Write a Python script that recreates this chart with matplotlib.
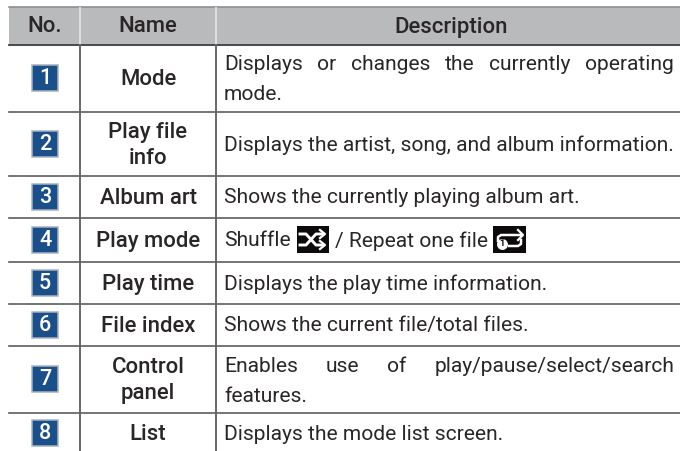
import matplotlib.pyplot as plt
from matplotlib.patches import Rectangle

plt.rcParams['font.family'] = ['Roboto', 'DejaVu Sans']

headers = ["No.", "Name", "Description"]
numbers = ["1", "2", "3", "4", "5", "6", "7", "8"]
names = ["Mode", "Play file\ninfo", "Album art", "Play mode", "Play time",
         "File index", "Control\npanel", "List"]
descriptions = [
    "Displays or changes the currently operating\nmode.",
    "Displays the artist, song, and album information.",
    "Shows the currently playing album art.",
    "Shuffle",
    "Displays the play time information.",
    "Shows the current file/total files.",
    "Enables use of play/pause/select/search\nfeatures.",
    "Displays the mode list screen.",
]
row_lines = [44, 112, 176, 217.5, 262, 304, 345.5, 412.5, 451]
col_lines = [9, 80, 216, 680]

text_col = "#2a2627"
size_body = 15.1
size_name = 15.9


def justified_line(ax, x, y, s, width, **kw):
    # spreads the words evenly over the column width
    r = ax.figure.canvas.get_renderer()
    objs = [ax.text(0, y, w, **kw) for w in s.split(" ")]
    ws = [o.get_window_extent(r).width for o in objs]
    gap = (width - sum(ws)) / (len(objs) - 1)
    cx = x
    for o, w in zip(objs, ws):
        o.set_x(cx)
        cx += w + gap


fig = plt.figure(figsize=(6.8, 4.51), dpi=100)
ax = fig.add_axes([0, 0, 1, 1])
ax.set_xlim(0, 680)
ax.set_ylim(451, 0)
ax.axis("off")

# header band
ax.add_patch(Rectangle((9, 7), 671, 37, fc="#b9babc", ec="none"))
ax.plot([9, 680], [7, 7], color="#8e8f91", lw=1.2)
ax.plot([9, 680], [44.5, 44.5], color="#3a3a3b", lw=1.3)
for x in col_lines[1:3]:
    ax.plot([x, x], [8, 43.5], color="#e4e4e5", lw=1.3)
    ax.plot([x, x], [45, 451], color="#5e5e60", lw=1.3)

header_x = [45, 148, 451]
for s, x in zip(headers, header_x):
    ax.text(x, 27, s, ha="center", va="center", fontsize=size_name,
            fontweight="medium", color=text_col)

for y in row_lines[1:-1]:
    ax.plot([9, 680], [y, y], color="#5e5e60", lw=1.2)

# rows
for i in range(8):
    top = row_lines[i]
    bot = row_lines[i + 1]
    yc = (top + bot) / 2
    if i == 7:
        yc = 433
    ax.add_patch(Rectangle((32, yc - 13), 26, 26, fc="#1a4f8a", ec="#a8b2bd", lw=1.1))
    ax.text(45, yc + 0.5, numbers[i], ha="center", va="center", color="white", fontsize=15.5,
            fontweight="medium")
    ax.text(148, yc + 1.5, names[i], ha="center", va="center", fontsize=size_name,
            fontweight="medium", color=text_col, linespacing=1.27)
    lines = descriptions[i].split("\n")
    if len(lines) == 2:
        justified_line(ax, 224, yc - 13, lines[0], 450, va="center", fontsize=size_body, color=text_col)
        ax.text(224, yc + 17, lines[1], va="center", fontsize=size_body, color=text_col)
    else:
        ax.text(224, yc + 1, lines[0], va="center", fontsize=size_body, color=text_col)

# play mode row, with the two icons
yc = 241
ax.text(335, yc, "/ Repeat one file", ha="left", va="center", fontsize=size_body, color=text_col)

ax.add_patch(Rectangle((297, 226), 32, 27, fc="#0c0a0b", ec="none"))
ax.plot([300, 306, 316, 322], [234, 234, 245, 245], color="white", lw=2.1)
ax.plot([300, 306, 316, 322], [245, 245, 234, 234], color="white", lw=2.1)
ax.plot([320, 325, 320], [230, 234, 238], color="white", lw=1.6)
ax.plot([320, 325, 320], [241, 245, 249], color="white", lw=1.6)

ax.add_patch(Rectangle((493, 226), 33, 27, fc="#0c0a0b", ec="none"))
ax.plot([498, 498, 501, 521], [241, 237, 235, 235], color="white", lw=1.8)
ax.plot([509, 518, 521, 521], [246, 246, 244, 240], color="white", lw=1.8)
ax.plot([518, 523, 518], [230, 235, 240], color="white", lw=1.6)
ax.scatter([502], [244], s=62, color="white", zorder=3, linewidths=0)
ax.text(502, 244, "1", ha="center", va="center", fontsize=6.5, color="#0c0a0b", zorder=4,
        fontweight="bold")

fig.savefig("out.png", dpi=100)
